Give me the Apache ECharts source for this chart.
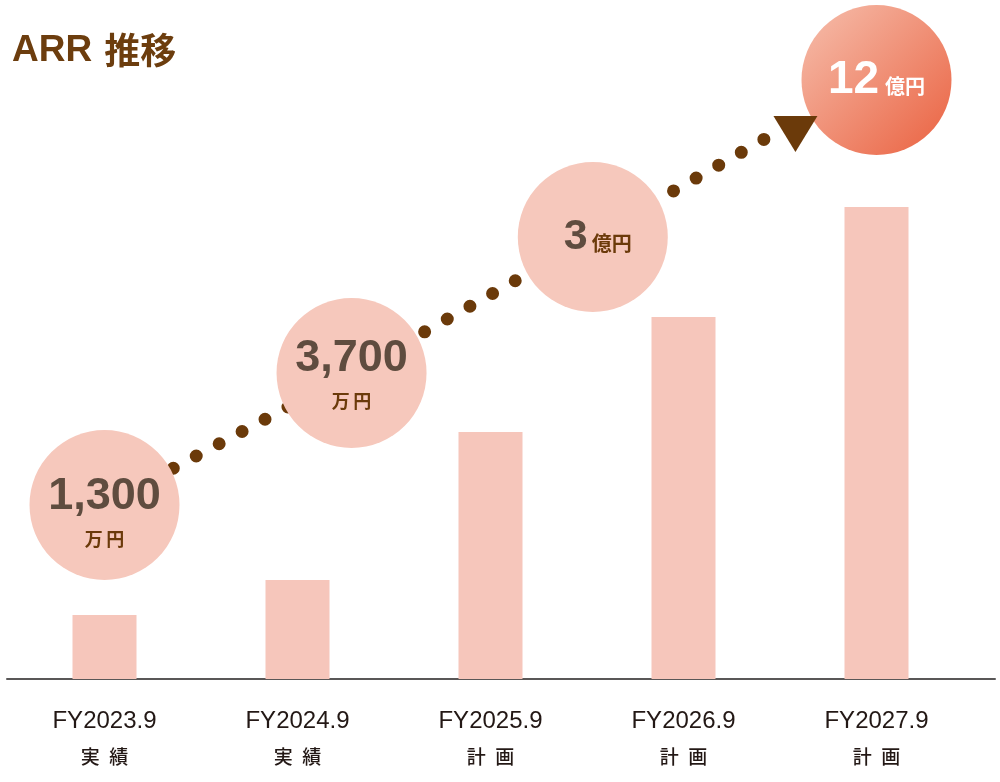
<!DOCTYPE html>
<html>
<head>
<meta charset="utf-8">
<script src="https://cdn.jsdelivr.net/npm/echarts@6/dist/echarts.min.js"></script>
<style>html,body{margin:0;padding:0;background:#fff}#c{width:1000px;height:782px}</style>
</head>
<body>
<div id="c"></div>
<script>
// ---- data ----
var categories = ['FY2023.9', 'FY2024.9', 'FY2025.9', 'FY2026.9', 'FY2027.9'];
var categoryNotes = ['実\u2002績', '実\u2002績', '計\u2002画', '計\u2002画', '計\u2002画'];
var barValues = [64, 99, 247, 362, 472];          // illustrative bar heights (relative)
var arrNumbers = ['1,300', '3,700', '3', '12'];
var arrUnits = ['万\u2009円', '万\u2009円', '億円', '億円'];
var bubbleX = [0, 1.28, 2.53, 4];                 // bubble anchor (category index units)
var bubbleY = [174, 306, 442, 599];               // bubble anchor (bar value units)
var arrowPoint = [3.58, 545];

var FONT = '"Liberation Sans", "Noto Sans CJK JP", sans-serif';
var JP = '"Noto Sans CJK JP", sans-serif';
var chart = echarts.init(document.getElementById('c'), null, {renderer: 'canvas'});

var bubbleData = bubbleX.map(function (x, i) {
  var last = i === bubbleX.length - 1;
  var item = {value: [x, bubbleY[i]], name: arrNumbers[i]};
  if (last) {
    item.itemStyle = {color: new echarts.graphic.LinearGradient(0, 0, 1, 1, [
      {offset: 0, color: '#f6bfad'}, {offset: 1, color: '#ea6140'}])};
    item.label = {formatter: '{w|' + arrNumbers[i] + '}{wu|' + arrUnits[i] + '}', offset: [0, 0]};
  } else if (arrUnits[i] === '億円') {
    item.label = {formatter: '{n3|' + arrNumbers[i] + '}{iu|' + arrUnits[i] + '}', offset: [5, 0]};
  } else {
    item.label = {formatter: '{n|' + arrNumbers[i] + '}\n{u|' + arrUnits[i] + '}', offset: [0, i === 0 ? 12 : 6]};
  }
  return item;
});

var lineData = bubbleX.slice(0, 3).map(function (x, i) { return [x, bubbleY[i]]; });
lineData.push([arrowPoint[0] - 0.06, arrowPoint[1] + 6]);

chart.setOption({
  animation: false,
  title: {
    text: '{a|ARR}{b|推移}', left: 7, top: 27,
    textStyle: {
      rich: {
        a: {fontFamily: '"Liberation Sans", sans-serif', fontSize: 37, fontWeight: 'bold', color: '#6c3d0e', padding: [0, 12, 0, 0]},
        b: {fontFamily: JP, fontSize: 36, fontWeight: 'bold', color: '#6c3d0e'}
      }
    }
  },
  grid: [
    {left: 8, width: 965, top: 79, bottom: 103},
    {left: 7, right: 5, top: 79, bottom: 103}
  ],
  xAxis: [
    {
      type: 'category', gridIndex: 0, data: categories, boundaryGap: true,
      axisLine: {show: false}, axisTick: {show: false},
      axisLabel: {
        margin: 24, interval: 0,
        formatter: function (v, i) { return '{a|' + v + '}\n{b|' + categoryNotes[i] + '}'; },
        rich: {
          a: {fontFamily: '"Liberation Sans", sans-serif', fontSize: 24, lineHeight: 36, color: '#231815'},
          b: {fontFamily: JP, fontSize: 19, fontWeight: 500, lineHeight: 36, color: '#231815'}
        }
      }
    },
    {type: 'value', gridIndex: 0, min: -0.5, max: 4.5, show: false},
    {
      type: 'value', gridIndex: 1, min: 0, max: 1,
      axisLine: {show: true, lineStyle: {color: '#595757', width: 2}},
      axisTick: {show: false}, axisLabel: {show: false}, splitLine: {show: false}
    }
  ],
  yAxis: [
    {type: 'value', gridIndex: 0, min: 0, max: 600, show: false},
    {type: 'value', gridIndex: 1, min: 0, max: 1, show: false}
  ],
  series: [
    {
      type: 'bar', xAxisIndex: 0, yAxisIndex: 0, data: barValues, barWidth: 64,
      itemStyle: {color: '#f6c6bb'}, z: 1
    },
    {
      type: 'line', xAxisIndex: 1, yAxisIndex: 0, data: lineData, z: 2,
      showSymbol: false, symbol: 'none',
      lineStyle: {color: '#6b3a0a', width: 13, type: [0, 26], cap: 'round'},
      clip: false
    },
    {
      type: 'scatter', xAxisIndex: 1, yAxisIndex: 0, data: bubbleData, z: 3,
      symbolSize: 150, clip: false,
      itemStyle: {color: '#f6c8bc', opacity: 1},
      label: {
        show: true, position: 'inside',
        rich: {
          n: {fontFamily: FONT, fontSize: 45, fontWeight: 'bold', color: '#5f4c3f', lineHeight: 44},
          n3: {fontFamily: FONT, fontSize: 43, fontWeight: 'bold', color: '#5f4c3f'},
          u: {fontFamily: JP, fontSize: 18, fontWeight: 'bold', color: '#6b3a0a', lineHeight: 40},
          iu: {fontFamily: JP, fontSize: 20, fontWeight: 'bold', color: '#6b3a0a', padding: [12, 0, 0, 4]},
          w: {fontFamily: FONT, fontSize: 46, fontWeight: 'bold', color: '#ffffff'},
          wu: {fontFamily: JP, fontSize: 20, fontWeight: 'bold', color: '#ffffff', padding: [12, 0, 0, 6]}
        }
      }
    },
    {
      type: 'scatter', xAxisIndex: 1, yAxisIndex: 0, z: 4, clip: false,
      data: [arrowPoint], symbol: 'triangle', symbolRotate: 180, symbolSize: [44, 36],
      itemStyle: {color: '#6b3a0a', opacity: 1}
    }
  ]
});
</script>
</body>
</html>
